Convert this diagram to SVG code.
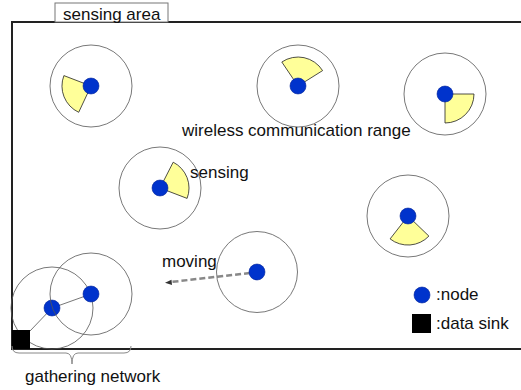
<svg xmlns="http://www.w3.org/2000/svg" width="521" height="390" viewBox="0 0 521 390">
<style>
text{font-family:"Liberation Sans",Arial,sans-serif;font-size:17px;fill:#111}
.range{fill:none;stroke:#555;stroke-width:0.8}
.sector{fill:#ffff99;stroke:#222;stroke-width:0.8}
.dot{fill:#0033cc;stroke:#002299;stroke-width:0.6}
.link{stroke:#777;stroke-width:1;fill:none}
</style>
<g id="area">
<path d="M530,22 H12 V349 H530" fill="none" stroke="#222" stroke-width="2"/>
<rect x="55" y="3" width="113" height="19" fill="#fff" stroke="#777" stroke-width="1"/>
<text x="63" y="20">sensing area</text>
</g>
<g id="connectors">
<line class="link" x1="52" y1="308" x2="91" y2="294"/>
<line class="link" x1="52" y1="308" x2="30" y2="331"/>
<path d="M250,273 L171,282" stroke="#888" stroke-width="2.5" stroke-dasharray="6,3" fill="none"/>
<path d="M165,282.8 L171.5,279.8 L172,285 Z" fill="#333"/>
</g>
<g id="node1">
<circle class="range" cx="91" cy="86" r="41"/>
<path class="sector" d="M91,86 L78.7,112.3 A29,29 0 0 1 63.9,75.6 Z"/>
<circle class="dot" cx="91" cy="86" r="8"/>
</g>
<g id="node2">
<circle class="range" cx="298" cy="86" r="41"/>
<path class="sector" d="M298,86 L281.8,62 A29,29 0 0 1 322.6,70.6 Z"/>
<circle class="dot" cx="298" cy="86" r="8"/>
</g>
<g id="node3">
<circle class="range" cx="445" cy="94" r="41"/>
<path class="sector" d="M445,94 L474,94 A29,29 0 0 1 445,123 Z"/>
<circle class="dot" cx="445" cy="94" r="8"/>
</g>
<g id="node4">
<circle class="range" cx="160" cy="188" r="41"/>
<path class="sector" d="M160,188 L173.2,162.2 A29,29 0 0 1 187.1,198.4 Z"/>
<circle class="dot" cx="160" cy="188" r="8"/>
</g>
<g id="node5">
<circle class="range" cx="408" cy="216" r="41"/>
<path class="sector" d="M408,216 L428.9,236.1 A29,29 0 0 1 390.1,238.9 Z"/>
<circle class="dot" cx="408" cy="216" r="8"/>
</g>
<g id="node6">
<circle class="range" cx="257" cy="272" r="40.5"/>
<circle class="dot" cx="257" cy="272" r="8"/>
</g>
<g id="node7">
<circle class="range" cx="52" cy="308" r="41"/>
<circle class="dot" cx="52" cy="308" r="8"/>
</g>
<g id="node8">
<circle class="range" cx="91" cy="294" r="41"/>
<circle class="dot" cx="91" cy="294" r="8"/>
</g>
<g id="sink">
<rect x="12" y="330" width="18" height="19" fill="#000"/>
</g>
<g id="labels">
<text x="182" y="135.5">wireless communication range</text>
<text x="190" y="178">sensing</text>
<text x="162" y="267">moving</text>
<path d="M12,346 Q12,353 19,353 H66 Q72,353 72,364 Q72,353 78,353 H124 Q131,353 131,346" fill="none" stroke="#888" stroke-width="1"/>
<text x="25" y="382">gathering network</text>
</g>
<g id="legend">
<circle class="dot" cx="422" cy="295" r="8"/>
<text x="436" y="300">:node</text>
<rect x="412" y="314" width="19" height="19" fill="#000"/>
<text x="436" y="329">:data sink</text>
</g>
</svg>
